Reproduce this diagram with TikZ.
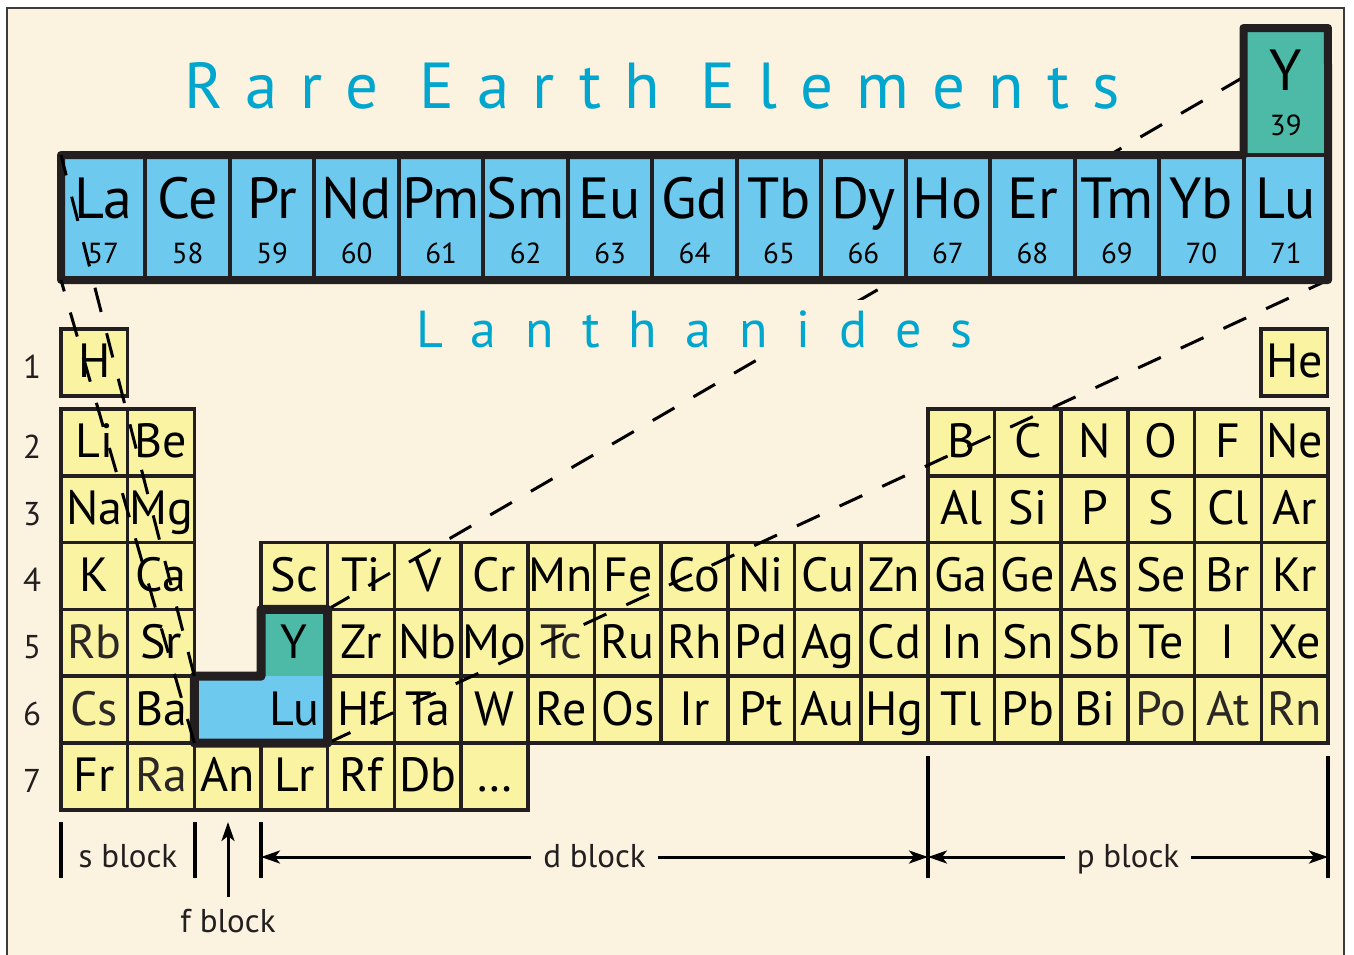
\documentclass[tikz,border=0pt]{standalone}
\usepackage{fontspec}
\setmainfont{PT Sans}
\usetikzlibrary{arrows.meta}
\pgfdeclarelayer{bg}
\pgfdeclarelayer{cells}
\pgfdeclarelayer{dash}
\pgfsetlayers{bg,cells,dash,main}

\definecolor{cream}{HTML}{FBF2DF}
\definecolor{cellyellow}{HTML}{FAF4A2}
\definecolor{lanblue}{HTML}{6EC9EF}
\definecolor{yteal}{HTML}{4DB9A7}
\definecolor{titlecyan}{HTML}{00A6CE}
\definecolor{ink}{HTML}{231F20}
\definecolor{faintink}{HTML}{2B2727}
\definecolor{framegrey}{HTML}{3C3C3C}

\newcommand{\fs}[1]{\fontsize{#1}{#1}\selectfont}
% periodic-table cell: [options]{column}{row}{symbol}
\newcommand{\pel}[4][]{\node[pcell,#1] (t-#4) at ({61+#2*66.68},{409+(#3-2)*66.8}) {#4};}

\begin{document}
\begin{tikzpicture}[x=1pt,y=-1pt,
  pcell/.style={draw=ink, line width=3.5pt, fill=cellyellow,
    minimum width=66.68pt, minimum height=66.8pt, inner sep=0pt, outer sep=0pt,
    anchor=north west, text height=34pt, text depth=3pt, font=\fs{48}, text=black},
  lcell/.style={draw=ink, line width=4pt, fill=lanblue, minimum width=84.47pt,
    minimum height=125pt, inner sep=0pt, outer sep=0pt, anchor=north west},
  lsym/.style={anchor=base, inner sep=0pt, font=\fs{58}, text=black},
  lnum/.style={anchor=base, inner sep=0pt, font=\fs{29}, text=black},
  dashline/.style={draw=black, line width=3pt, dash pattern=on 25pt off 22pt},
  rownum/.style={anchor=base, inner sep=0pt, font=\fs{33}, text=ink},
  blabel/.style={inner xsep=12pt, inner ysep=0pt, text height=24pt, text depth=4pt,
    font=\fs{33}, text=ink},
  bar/.style={draw=black, line width=4pt},
  blockarrow/.style={draw=black, line width=3pt, -{Stealth[length=19pt,width=13pt,inset=5pt]}}
]
\useasboundingbox (0,0) rectangle (1354,954);

% page and framed panel
\begin{pgfonlayer}{bg}
  \fill[white] (0,0) rectangle (1354,954);
  \draw[fill=cream, draw=framegrey, line width=2pt] (7,8) rectangle (1344,980);
\end{pgfonlayer}

% main table
\begin{pgfonlayer}{cells}
  \node[pcell] (t-H) at (61,329) {H};
  \node[pcell] (t-He) at (1261,329) {He};
  \foreach \c/\s in {0/Li,1/Be,13/B,14/C,15/N,16/O,17/F,18/Ne} {\pel{\c}{2}{\s}}
  \foreach \c/\s in {0/Na,1/Mg,13/Al,14/Si,15/P,16/S,17/Cl,18/Ar} {\pel{\c}{3}{\s}}
  \foreach \c/\s in {0/K,1/Ca,3/Sc,4/Ti,5/V,6/Cr,7/Mn,8/Fe,9/Co,10/Ni,11/Cu,12/Zn,
                     13/Ga,14/Ge,15/As,16/Se,17/Br,18/Kr} {\pel{\c}{4}{\s}}
  \foreach \c/\s in {1/Sr,4/Zr,5/Nb,6/Mo,8/Ru,9/Rh,10/Pd,11/Ag,12/Cd,
                     13/In,14/Sn,15/Sb,16/Te,17/I,18/Xe} {\pel{\c}{5}{\s}}
  \foreach \c/\s in {1/Ba,4/Hf,5/Ta,6/W,7/Re,8/Os,9/Ir,10/Pt,11/Au,12/Hg,
                     13/Tl,14/Pb,15/Bi} {\pel{\c}{6}{\s}}
  \foreach \c/\s in {0/Fr,2/An,3/Lr,4/Rf,5/Db} {\pel{\c}{7}{\s}}
  \foreach \c/\r/\s in {0/5/Rb,7/5/Tc,0/6/Cs,16/6/Po,17/6/At,18/6/Rn,1/7/Ra} {\pel[text=faintink]{\c}{\r}{\s}}
  \node[pcell] (t-more) at ({61+6*66.68},{409+5*66.8}) {…};
  % highlighted rare-earth positions
  \node[pcell, draw=none, fill=yteal] (t-Y) at ({61+3*66.68},{409+3*66.8}) {Y};
  \node[pcell, draw=none, fill=lanblue] (t-Lu) at ({61+3*66.68},{409+4*66.8}) {Lu};
  \node[pcell, draw=none, fill=lanblue] (t-f) at ({61+2*66.68},{409+4*66.8}) {};
\end{pgfonlayer}

% lanthanide strip
\foreach \s/\n [count=\i from 0] in {La/57,Ce/58,Pr/59,Nd/60,Pm/61,Sm/62,Eu/63,Gd/64,
    Tb/65,Dy/66,Ho/67,Er/68,Tm/69,Yb/70,Lu/71} {
  \node[lcell] (L-\s) at ({61+\i*84.47},155) {};
  \node[lsym] (L-\s-sym) at ({61+(\i+0.5)*84.47},218) {\s};
  \node[lnum] (L-\s-num) at ({61+(\i+0.5)*84.47},263) {\n};
}
\node[lcell, fill=yteal, minimum height=127pt] (Ybox) at (1243.5,28) {};
\node[lsym] (Ybox-sym) at (Ybox.center |- 0,90) {Y};
\node[lnum] (Ybox-num) at (Ybox.center |- 0,135) {39};
\draw[ink, line width=8pt, line join=round]
  (L-La.north west) -- (Ybox.south west) -- (Ybox.north west) -- (Ybox.north east)
  -- (L-Lu.south east) -- (L-La.south west) -- cycle;

% projection lines to the right end of the strip, passing behind it
\begin{pgfonlayer}{dash}
  \draw[dashline] (t-Y.north east) -- (Ybox.north east);
  \draw[dashline] (t-Lu.south east) -- (L-Lu.south east);
\end{pgfonlayer}

% frame round the highlighted positions
\draw[ink, line width=9pt, line join=round]
  (t-f.north west) -- (t-Y.south west) -- (t-Y.north west) -- (t-Y.north east)
  -- (t-Lu.south east) -- (t-f.south west) -- cycle;

% projection lines to the left end of the strip
\draw[dashline] (t-f.north west) -- (L-La.north west);
\draw[dashline] (t-f.south west) -- (L-La.south west);

% headings
\node[anchor=base west, inner sep=0pt, text=titlecyan,
  font=\fs{65}\addfontfeature{LetterSpace=35.5}] (title) at (184,108) {Rare Earth Elements};
\node[anchor=base west, inner xsep=4pt, inner ysep=10pt, fill=cream, text=titlecyan,
  font=\fs{52}\addfontfeature{LetterSpace=55}] (lanlabel) at (412,347) {Lanthanides};

% period numbers
\foreach \r/\y in {1/378,2/458,3/525,4/591,5/658,6/725,7/792}
  \node[rownum] (row\r) at (32,\y) {\r};

% block markers
\coordinate (s1a) at (61,822);   \coordinate (s1b) at (61,878);
\coordinate (s2a) at (195,822);  \coordinate (s2b) at (195,878);
\coordinate (d1a) at (261,822);  \coordinate (d1b) at (261,878);
\coordinate (p1a) at (928,756);  \coordinate (p1b) at (928,878);
\coordinate (p2a) at (1328,756); \coordinate (p2b) at (1328,878);
\foreach \a/\b in {s1a/s1b,s2a/s2b,d1a/d1b,p1a/p1b,p2a/p2b} \draw[bar] (\a) -- (\b);

\node[blabel] (slab) at (128,857) {s block};
\node[blabel] (dlab) at (594.5,857) {d block};
\node[blabel] (plab) at (1128,857) {p block};
\node[blabel] (flab) at (228,922) {f block};

\coordinate (dL) at (261,857); \coordinate (dR) at (928,857);
\coordinate (pL) at (928,857); \coordinate (pR) at (1328,857);
\draw[blockarrow] (dlab.west) -- (dL);
\draw[blockarrow] (dlab.east) -- (dR);
\draw[blockarrow] (plab.west) -- (pL);
\draw[blockarrow] (plab.east) -- (pR);
\coordinate (fB) at (228,897); \coordinate (fT) at (228,822);
\draw[blockarrow] (fB) -- (fT);
\end{tikzpicture}
\end{document}
